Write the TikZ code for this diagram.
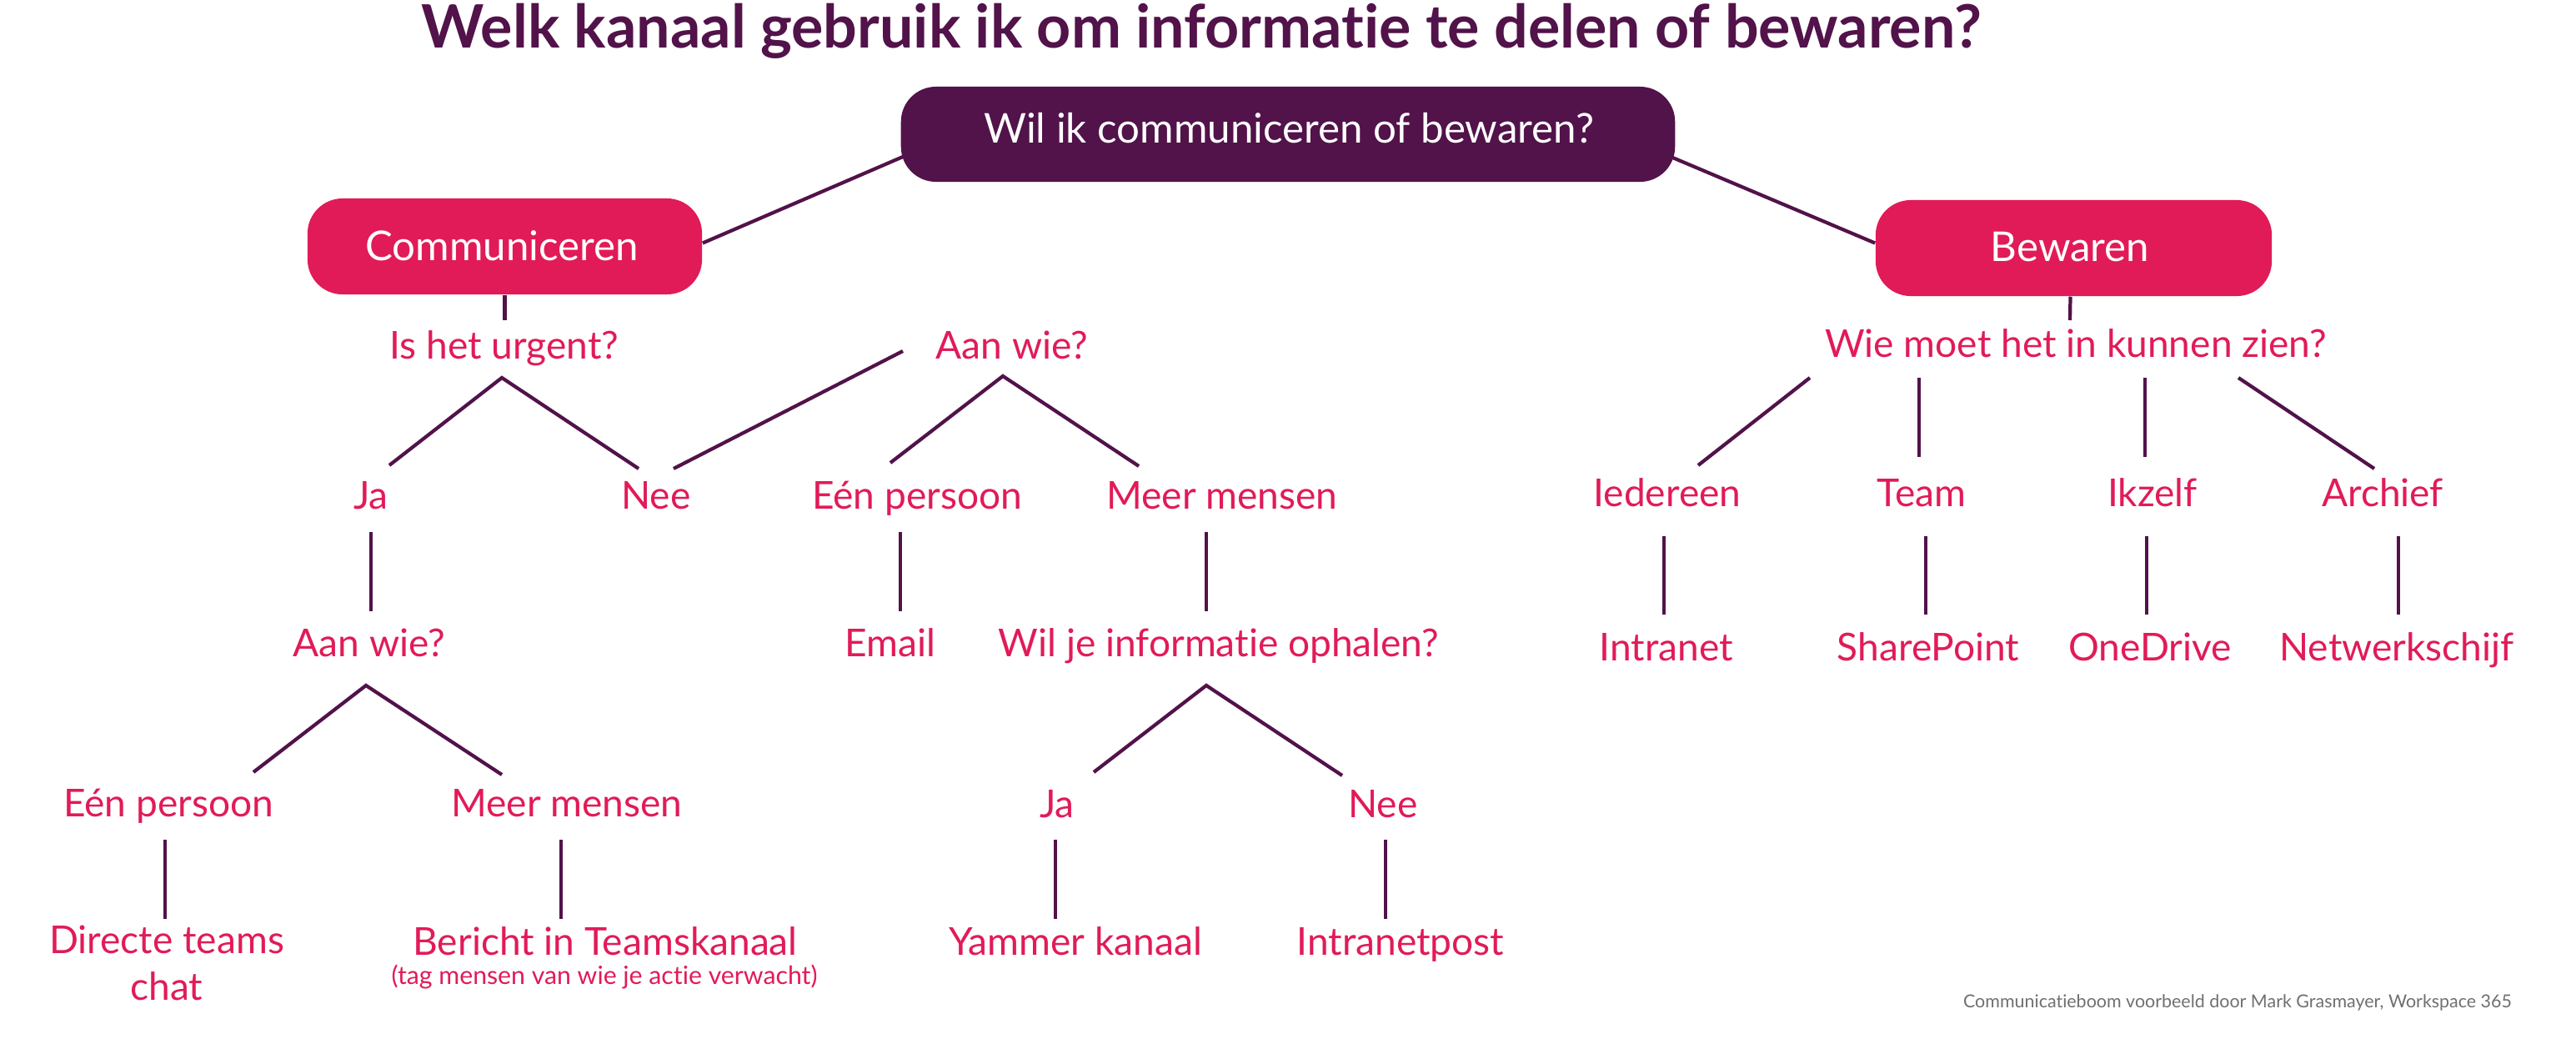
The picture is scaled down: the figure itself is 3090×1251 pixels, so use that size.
\documentclass[tikz,border=0pt]{standalone}
\usepackage{fontspec}
\setmainfont{Lato}[Ligatures=NoCommon]
\usetikzlibrary{calc}
\definecolor{purp}{HTML}{52124A}
\definecolor{pinkc}{HTML}{E11B58}
\definecolor{foot}{HTML}{707070}
\begin{document}
\begin{tikzpicture}[x=0.01cm,y=-0.01cm,
  lnk/.style={draw=purp,line width=1.2pt},
  lbl/.style={text=pinkc,font=\fontsize{13.1pt}{15.6pt}\selectfont,anchor=base,inner sep=0pt,align=center},
  notelbl/.style={text=pinkc,font=\fontsize{8.6pt}{10pt}\selectfont,anchor=base,inner sep=0pt},
  boxshape/.style={rounded corners=0.42cm,minimum height=1.15cm,inner sep=0pt},
  boxtxt/.style={text=white,font=\fontsize{14pt}{16pt}\selectfont,anchor=base,inner sep=0pt}]
\useasboundingbox (0,0) rectangle (3090,1251);
\fill[white] (0,0) rectangle (3090,1251);
% title
\node[text=purp,font=\fontsize{20.4pt}{23pt}\selectfont\bfseries,anchor=base,inner sep=0pt] (title) at (1441,57) {Welk kanaal gebruik ik om informatie te delen of bewaren?};
% boxes
\node[boxshape,fill=purp,minimum width=9.28cm,minimum height=1.14cm] (root) at (1545,161) {};
\node[boxtxt] (rootlbl) at (1546,171) {Wil ik communiceren of bewaren?};
\node[boxshape,fill=pinkc,minimum width=4.73cm] (comm) at (605.5,295.5) {};
\node[boxtxt] (commlbl) at (602,312) {Communiceren};
\node[boxshape,fill=pinkc,minimum width=4.75cm] (bew) at (2487.5,297.5) {};
\node[boxtxt] (bewlbl) at (2483,313) {Bewaren};
% left labels
\node[lbl] (q1) at (605,430) {Is het urgent?};
\node[lbl] (ja1) at (445,610) {Ja};
\node[lbl] (nee1) at (787,610) {Nee};
\node[lbl] (aw1) at (1214,430) {Aan wie?};
\node[lbl] (een1) at (1100,610) {Eén persoon};
\node[lbl] (meer1) at (1466,610) {Meer mensen};
\node[lbl] (email) at (1068,787) {Email};
\node[lbl] (wil) at (1462,787) {Wil je informatie ophalen?};
\node[lbl] (ja2) at (1268,980) {Ja};
\node[lbl] (nee2) at (1659,980) {Nee};
\node[lbl] (yam) at (1290,1145) {Yammer kanaal};
\node[lbl] (ipost) at (1680,1145) {Intranetpost};
\node[lbl] (aw2) at (443,787) {Aan wie?};
\node[lbl] (een2) at (202,979) {Eén persoon};
\node[lbl] (meer2) at (680,979) {Meer mensen};
\node[lbl] (dtc) at (200,1199) {Directe teams\\[0.3pt]chat};
\node[lbl] (ber) at (726,1145) {Bericht in Teamskanaal};
\node[notelbl] (bernote) at (725,1180) {(tag mensen van wie je actie verwacht)};
% right labels
\node[lbl] (q3) at (2490,428) {Wie moet het in kunnen zien?};
\node[lbl] (ied) at (2000,607) {Iedereen};
\node[lbl] (team) at (2305,607) {Team};
\node[lbl] (ikz) at (2582,607) {Ikzelf};
\node[lbl] (arch) at (2858,607) {Archief};
\node[lbl] (intra) at (1999,792) {Intranet};
\node[lbl] (sp) at (2313,792) {SharePoint};
\node[lbl] (od) at (2579,792) {OneDrive};
\node[lbl] (nw) at (2875,792) {Netwerkschijf};
% footer
\node[text=foot,font=\fontsize{6.1pt}{7pt}\selectfont,anchor=base,inner sep=0pt] (footer) at (2684,1208) {Communicatieboom voorbeeld door Mark Grasmayer, Workspace 365};
% connectors
\draw[lnk] ($(root.west)+(3,27)$) -- ($(comm.east)+(0,-4)$);
\draw[lnk] ($(root.east)+(-6,27)$) -- ($(bew.west)+(0,-6)$);
\draw[lnk] (comm.south) -- ($(q1.base)+(0.5,-46)$);
\draw[lnk] ($(bew.south)+(-4,0)$) -- ($(q3.base)+(-7,-44)$);
\draw[lnk] ($(ja1.base)+(22,-52)$) -- ($(q1.base)+(-3,23)$) -- ($(nee1.base)+(-21,-48)$);
\draw[lnk] ($(nee1.base)+(21,-48)$) -- ($(aw1.base)+(-131,-9)$);
\draw[lnk] ($(een1.base)+(-32,-55)$) -- ($(aw1.base)+(-11,21)$) -- ($(meer1.base)+(-100,-51)$);
\draw[lnk] ($(een1.base)+(-20,28)$) -- ($(email.base)+(12,-54)$);
\draw[lnk] ($(meer1.base)+(-19,28)$) -- ($(wil.base)+(-15,-54)$);
\draw[lnk] ($(ja2.base)+(44,-54)$) -- ($(wil.base)+(-15,35)$) -- ($(nee2.base)+(-49,-50)$);
\draw[lnk] ($(ja2.base)+(-2,27)$) -- ($(yam.base)+(-24,-43)$);
\draw[lnk] ($(nee2.base)+(3,27)$) -- ($(ipost.base)+(-18,-43)$);
\draw[lnk] ($(ja1.base)+(0,28)$) -- ($(aw2.base)+(2,-54)$);
\draw[lnk] ($(een2.base)+(102,-53)$) -- ($(aw2.base)+(-4,35)$) -- ($(meer2.base)+(-78,-50)$);
\draw[lnk] ($(een2.base)+(-4,28)$) -- ($(dtc.base)+(-2,-97)$);
\draw[lnk] ($(meer2.base)+(-7,28)$) -- ($(ber.base)+(-53,-43)$);
\draw[lnk] ($(q3.base)+(-319,25)$) -- ($(ied.base)+(37,-49)$);
\draw[lnk] ($(q3.base)+(-188,25)$) -- ($(team.base)+(-3,-59)$);
\draw[lnk] ($(q3.base)+(83,25)$) -- ($(ikz.base)+(-9,-59)$);
\draw[lnk] ($(q3.base)+(195,25)$) -- ($(arch.base)+(-10,-45)$);
\draw[lnk] ($(ied.base)+(-4,36)$) -- ($(intra.base)+(-3,-55)$);
\draw[lnk] ($(team.base)+(5,36)$) -- ($(sp.base)+(-3,-55)$);
\draw[lnk] ($(ikz.base)+(-7,36)$) -- ($(od.base)+(-4,-55)$);
\draw[lnk] ($(arch.base)+(19,36)$) -- ($(nw.base)+(2,-55)$);
\end{tikzpicture}
\end{document}
